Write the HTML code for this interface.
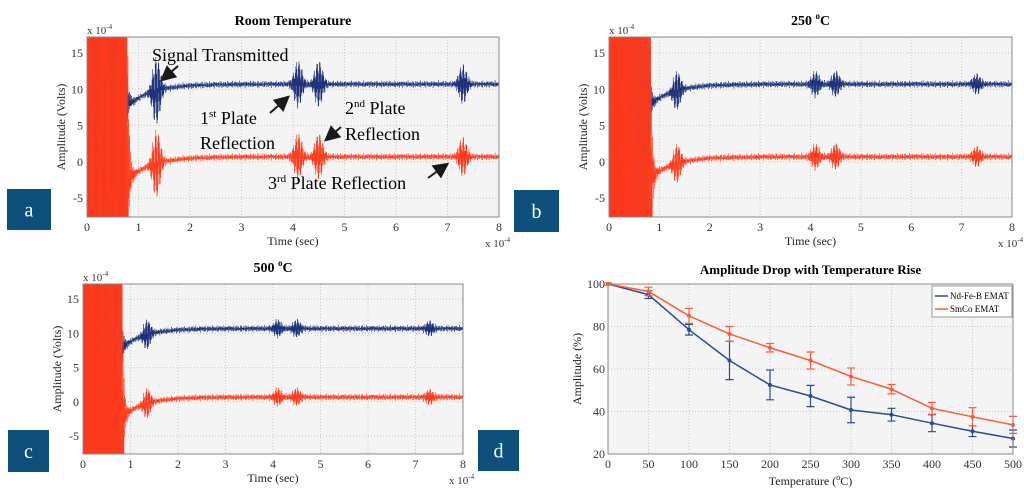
<!DOCTYPE html>
<html><head><meta charset="utf-8"><style>
html,body{margin:0;padding:0;background:#fff;width:1024px;height:496px;overflow:hidden;}
svg{display:block;font-family:"Liberation Serif",serif;}
</style></head><body>
<svg id="fig" width="1024" height="496" viewBox="0 0 1024 496"></svg>
<script>
// ---- data for signal panels ----
const burstTimes = [1.35, 4.1, 4.5, 7.3];
const burstAmpsA = [4.5, 3.0, 3.0, 2.5];
const burstAmpsB = [2.5, 1.6, 1.6, 1.2];
const burstAmpsC = [2.0, 1.1, 1.1, 0.9];
const blueBaseline = [8.3, 10.7];
const redBaseline = [-1.8, 0.7];
const xTicks = [0,1,2,3,4,5,6,7,8];
const yTicks = [-5,0,5,10,15];
// ---- data for panel d ----
const temps = [0,50,100,150,200,250,300,350,400,450,500];
const ndfeb = [100,95,78.5,64,52.5,47.3,40.7,38.5,34.5,30.7,27.3];
const ndfebErr = [0.5,1.8,2.5,9,7,5,6,3,4,2.5,4];
const smco = [100,96.5,85,76.5,70,64,56.5,50.5,41.5,37.5,33.7];
const smcoErr = [0.5,2,3.5,3.5,2,4,4,2.2,2.8,4.3,4];
const dYTicks = [20,40,60,80,100];

const NS="http://www.w3.org/2000/svg";
const svg=document.getElementById('fig');
function el(tag,attrs,parent,text){const e=document.createElementNS(NS,tag);for(const k in attrs)e.setAttribute(k,attrs[k]);if(text!==undefined)e.textContent=text;(parent||svg).appendChild(e);return e;}

function labelBox(x,y,w,h,letter){
  const g=el('g',{});
  
  
  el('rect',{x:x,y:y,width:w,height:h,fill:'#0f4f7c'},g);
  el('text',{x:x+w/2,y:y+h/2+7,'text-anchor':'middle','font-size':20,fill:'#fff'},g,letter);
}

function signalPanel(id,L,R,T,B,title,amps,blueEnd,redEnd){
  const g=el('g',{});
  
  
  const yMin=-7.6,yMax=17.2;
  const sx=t=>L+(t/8)*(R-L);
  const sy=v=>B-(v-yMin)/(yMax-yMin)*(B-T);
  el('rect',{x:L,y:T,width:R-L,height:B-T,fill:'#f4f4f4',stroke:'#888','stroke-width':1},g);
  xTicks.forEach(t=>{
    const ln=el('line',{x1:sx(t),x2:sx(t),y1:T,y2:B,stroke:'#c8c8c8','stroke-dasharray':'1,2'},g);
    
    
    const tx=el('text',{x:sx(t),y:B+14,'text-anchor':'middle','font-size':12,fill:'#333'},g,t);
    
    
  });
  yTicks.forEach(v=>{
    el('line',{x1:L,x2:R,y1:sy(v),y2:sy(v),stroke:'#c8c8c8','stroke-dasharray':'1,2'},g);
    const tx=el('text',{x:L-4,y:sy(v)+4,'text-anchor':'end','font-size':12,fill:'#333'},g,v);
    
    
  });
  const cp=el('clipPath',{id:'clip'+id},g);
  el('rect',{x:L,y:T,width:R-L,height:B-T},cp);
  function series(base,end,color,name){
    let d='';let k=0;
    for(let t=0;t<=8;t+=0.005,k++){
      const sgn=(k%2?1:-1);
      const bl=base[1]+(base[0]-base[1])*Math.exp(-(Math.max(t,0.9)-0.9)/0.45);
      let v;
      if(t<end){v=bl+sgn*40;}
      else{
        const ring=30*Math.exp(-(t-end)/0.02)+5*Math.exp(-(t-end)/0.06);
        v=bl+sgn*ring*Math.abs(Math.sin(k*0.9+0.3));
      }
      burstTimes.forEach((c,i)=>{v+=sgn*amps[i]*Math.exp(-Math.pow((t-c)/0.1,2))*Math.abs(Math.sin(k*1.3));});
      v+=sgn*0.3*Math.abs(Math.sin(k*0.77))+0.25*Math.sin(k*2.1)*Math.sin(k*0.13);
      d+=(d?'L':'M')+sx(t).toFixed(1)+','+sy(v).toFixed(1);
    }
    const p=el('path',{d:d,fill:'none',stroke:color,'stroke-width':0.5,'clip-path':'url(#clip'+id+')'},g);
    
    
  }
  series(blueBaseline,blueEnd,'#1a2f78','blue-signal');
  series(redBaseline,redEnd,'#ff3b1c','red-signal');
  el('rect',{x:L,y:T,width:R-L,height:B-T,fill:'none',stroke:'#888','stroke-width':1},g);
  const tt=el('text',{x:(L+R)/2,y:T-12,'text-anchor':'middle','font-size':14,'font-weight':'bold'},g);
  
  
  tt.innerHTML=title;
  el('text',{x:L,y:T-3,'font-size':11,fill:'#333'},g).innerHTML='x 10<tspan dy="-5" font-size="7">-4</tspan>';
  el('text',{x:R-14,y:B+30,'font-size':11,fill:'#333'},g).innerHTML='x 10<tspan dy="-5" font-size="7">-4</tspan>';
  const xt=el('text',{x:(L+R)/2,y:B+28,'text-anchor':'middle','font-size':12,fill:'#222'},g,'Time (sec)');
  
  
  const yt=el('text',{x:0,y:0,'text-anchor':'middle','font-size':12,fill:'#222',transform:`translate(${L-22},${(T+B)/2}) rotate(-90)`},g,'Amplitude (Volts)');
  
  
  return {sx,sy};
}

signalPanel('a',87,499,37,217,'Room Temperature',burstAmpsA,0.72,0.78);
signalPanel('b',609,1012,37,217,'250 <tspan dy="-6" font-size="9">o</tspan><tspan dy="6">C</tspan>',burstAmpsB,0.76,0.82);
signalPanel('c',83,463,284,454,'500 <tspan dy="-6" font-size="9">o</tspan><tspan dy="6">C</tspan>',burstAmpsC,0.76,0.82);

// annotations panel a
const ann=el('g',{});


el('defs',{},ann).innerHTML='<marker id="ah" markerWidth="8" markerHeight="8" refX="6" refY="4" orient="auto"><path d="M0,0 L8,4 L0,8 z" fill="#1a1a1a"/></marker>';
function arrow(x1,y1,x2,y2){el('line',{x1,y1,x2,y2,stroke:'#1a1a1a','stroke-width':2,'marker-end':'url(#ah)'},ann);}
el('text',{x:152,y:61,'font-size':18},ann,'Signal Transmitted');
arrow(178,66,163,79);
el('text',{x:200,y:124,'font-size':18},ann).innerHTML='1<tspan dy="-7" font-size="11">st</tspan><tspan dy="7"> Plate</tspan>';
el('text',{x:200,y:149,'font-size':18},ann,'Reflection');
arrow(270,113,287,98);
el('text',{x:345,y:114,'font-size':18},ann).innerHTML='2<tspan dy="-7" font-size="11">nd</tspan><tspan dy="7"> Plate</tspan>';
el('text',{x:345,y:140,'font-size':18},ann,'Reflection');
arrow(341,127,327,139);
el('text',{x:268,y:189,'font-size':18},ann).innerHTML='3<tspan dy="-7" font-size="11">rd</tspan><tspan dy="7"> Plate Reflection</tspan>';
arrow(428,178,446,165);

labelBox(7,189,44,41,'a');
labelBox(514,190,45,42,'b');
labelBox(8,430,41,42,'c');
labelBox(478,430,41,41,'d');

// panel d
(function(){
  const g=el('g',{});
  
  
  const L=608,R=1013,T=284,B=454;
  const sx=t=>L+(t/500)*(R-L);
  const sy=v=>B-(v-20)/80*(B-T);
  el('rect',{x:L,y:T,width:R-L,height:B-T,fill:'#f4f4f4'},g);
  temps.forEach(t=>{
    el('line',{x1:sx(t),x2:sx(t),y1:T,y2:B,stroke:'#c8c8c8','stroke-dasharray':'1,2'},g);
    const tx=el('text',{x:sx(t),y:B+14,'text-anchor':'middle','font-size':12,fill:'#333'},g,t);
    
    
  });
  dYTicks.forEach(v=>{
    el('line',{x1:L,x2:R,y1:sy(v),y2:sy(v),stroke:'#c8c8c8','stroke-dasharray':'1,2'},g);
    const tx=el('text',{x:L-3,y:sy(v)+4,'text-anchor':'end','font-size':12,fill:'#333'},g,v);
    
    
  });
  function ser(vals,errs,color,name){
    const sg=el('g',{},g);
    
    
    el('polyline',{points:vals.map((v,i)=>sx(temps[i])+','+sy(v)).join(' '),fill:'none',stroke:color,'stroke-width':1.5},sg);
    vals.forEach((v,i)=>{
      const x=sx(temps[i]);
      const eb=el('path',{d:`M${x},${sy(v-errs[i])}V${sy(v+errs[i])}M${x-4},${sy(v-errs[i])}H${x+4}M${x-4},${sy(v+errs[i])}H${x+4}`,stroke:color,'stroke-width':1.2,fill:'none'},sg);
      
      
      const m=el('circle',{cx:x,cy:sy(v),r:2,fill:color},sg);
      
      
    });
  }
  ser(ndfeb,ndfebErr,'#2c4a8c','ndfeb-series');
  ser(smco,smcoErr,'#ff5a3c','smco-series');
  el('rect',{x:L,y:T,width:R-L,height:B-T,fill:'none',stroke:'#888'},g);
  const lg=el('g',{},g);
  
  
  el('rect',{x:932,y:286,width:80,height:31,fill:'#fff',stroke:'#999'},lg);
  el('line',{x1:935,x2:948,y1:296,y2:296,stroke:'#2c4a8c','stroke-width':1.5},lg);
  el('text',{x:950,y:299,'font-size':9},lg,'Nd-Fe-B EMAT');
  el('line',{x1:935,x2:948,y1:309,y2:309,stroke:'#ff5a3c','stroke-width':1.5},lg);
  el('text',{x:950,y:312,'font-size':9},lg,'SmCo EMAT');
  const tt=el('text',{x:(L+R)/2,y:274,'text-anchor':'middle','font-size':13,'font-weight':'bold'},g,'Amplitude Drop with Temperature Rise');
  
  
  const xt=el('text',{x:(L+R)/2,y:485,'text-anchor':'middle','font-size':12,fill:'#222'},g);
  xt.innerHTML='Temperature (<tspan dy="-5" font-size="8">o</tspan><tspan dy="5">C)</tspan>';
  
  
  const yt=el('text',{x:0,y:0,'text-anchor':'middle','font-size':12,fill:'#222',transform:`translate(${L-27},${(T+B)/2}) rotate(-90)`},g,'Amplitude (%)');
  
  
})();
</script>
</body></html>
